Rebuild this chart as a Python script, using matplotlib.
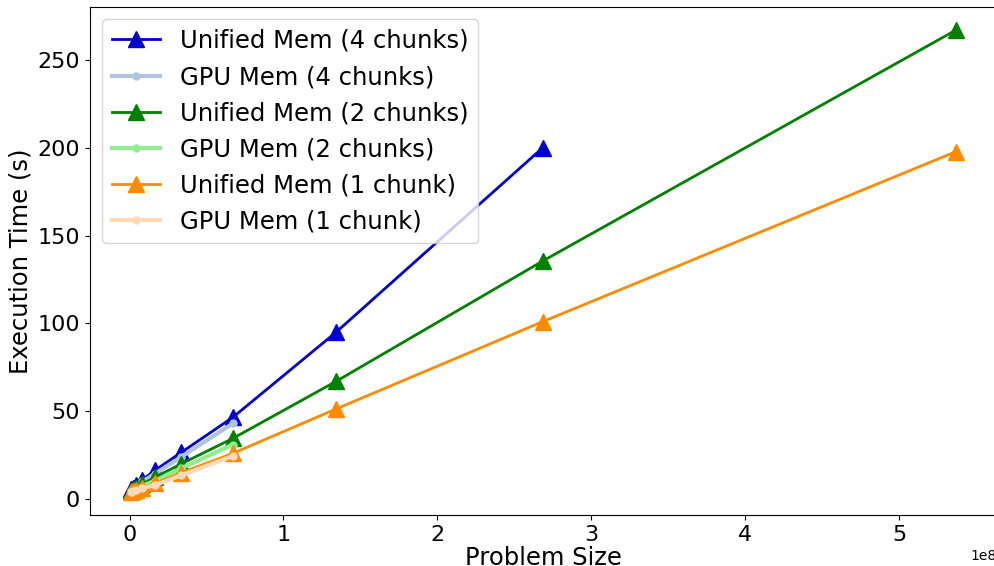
import matplotlib
matplotlib.use("Agg")
import matplotlib.pyplot as plt

# problem sizes are powers of two, 2^20 .. 2^29
sizes = [2 ** p for p in range(20, 30)]

# execution times (s)
unified_4 = [5.5, 6.5, 8.0, 11.0, 16.5, 26.5, 46.5, 95.0, 200.0]
gpu_4 = [5.0, 6.0, 7.5, 10.0, 14.5, 24.0, 43.0]
unified_2 = [4.5, 5.5, 6.5, 8.5, 12.5, 20.0, 34.5, 67.0, 135.5, 267.0]
gpu_2 = [4.5, 5.0, 6.0, 7.5, 10.5, 17.5, 31.0]
unified_1 = [4.0, 4.5, 5.0, 6.5, 9.0, 15.0, 26.0, 51.3, 101.0, 197.8]
gpu_1 = [4.0, 4.5, 5.0, 6.0, 8.0, 13.5, 24.5]

fig = plt.figure(figsize=(9.94, 5.66), dpi=100)
ax = fig.add_axes([0.0905, 0.09, 0.9125, 0.8975])

ax.plot(sizes[:len(unified_4)], unified_4, color='mediumblue', marker='^',
        markersize=12, linewidth=2, label='Unified Mem (4 chunks)')
ax.plot(sizes[:len(gpu_4)], gpu_4, color='lightsteelblue', marker='o',
        markersize=5, linewidth=3, label='GPU Mem (4 chunks)')
ax.plot(sizes[:len(unified_2)], unified_2, color='green', marker='^',
        markersize=12, linewidth=2, label='Unified Mem (2 chunks)')
ax.plot(sizes[:len(gpu_2)], gpu_2, color='lightgreen', marker='o',
        markersize=5, linewidth=3, label='GPU Mem (2 chunks)')
ax.plot(sizes[:len(unified_1)], unified_1, color='darkorange', marker='^',
        markersize=12, linewidth=2, label='Unified Mem (1 chunk)')
ax.plot(sizes[:len(gpu_1)], gpu_1, color='peachpuff', marker='o',
        markersize=5, linewidth=3, label='GPU Mem (1 chunk)')

ax.set_xlabel('Problem Size', fontsize=17.5, labelpad=1)
ax.set_ylabel('Execution Time (s)', fontsize=17.5)
ax.tick_params(labelsize=16)
ax.legend(loc='upper left', fontsize=17.5)

fig.savefig('out.png', dpi=100)
